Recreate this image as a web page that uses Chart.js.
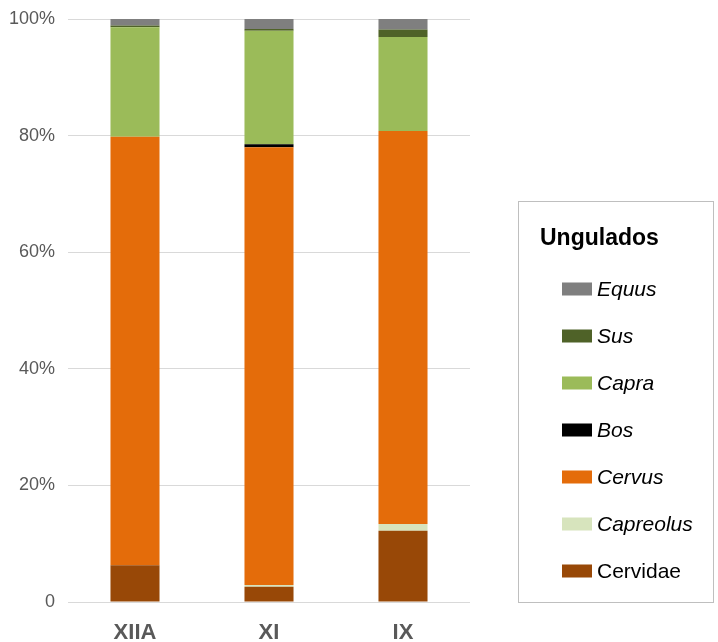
<!DOCTYPE html>
<html>
<head>
<meta charset="utf-8">
<script src="https://cdn.jsdelivr.net/npm/chart.js@4/dist/chart.umd.min.js"></script>
<style>
  html, body { margin: 0; padding: 0; background: #ffffff; }
  canvas { display: block; }
</style>
</head>
<body>
<canvas id="chart" width="718" height="642"></canvas>
<script>
// Levels (x axis categories)
const levels = ['XIIA', 'XI', 'IX'];

// Percentage of ungulate remains per taxon and level
const cervidae  = [6.3, 2.6, 12.2];
const capreolus = [0.0, 0.3, 1.2];
const cervus    = [73.5, 75.1, 67.4];
const bos       = [0.0, 0.5, 0.0];
const capra     = [18.8, 19.5, 16.1];
const sus       = [0.3, 0.3, 1.3];
const equus     = [1.1, 1.7, 1.8];

// Y axis tick values
const yTicks = [0, 20, 40, 60, 80, 100];

const legendTitle = 'Ungulados';

// Stacked from the bottom up
const series = [
  { label: 'Cervidae',  data: cervidae,  color: '#984807', italic: false },
  { label: 'Capreolus', data: capreolus, color: '#d7e4bd', italic: true },
  { label: 'Cervus',    data: cervus,    color: '#e46c0a', italic: true },
  { label: 'Bos',       data: bos,       color: '#000000', italic: true },
  { label: 'Capra',     data: capra,     color: '#9bbb59', italic: true },
  { label: 'Sus',       data: sus,       color: '#4f6228', italic: true },
  { label: 'Equus',     data: equus,     color: '#7f7f7f', italic: true }
];

const FONT = '"Liberation Sans", Arial, sans-serif';

// Boxed legend on the right, listed top-down in stacking order
const boxedLegend = {
  id: 'boxedLegend',
  afterDraw(chart) {
    const ctx = chart.ctx;
    const box = { left: 518.5, top: 201.5, right: 713.5, bottom: 602.5 };
    ctx.save();
    ctx.strokeStyle = '#bfbfbf';
    ctx.lineWidth = 1;
    ctx.strokeRect(box.left, box.top, box.right - box.left, box.bottom - box.top);

    ctx.fillStyle = '#000000';
    ctx.textBaseline = 'alphabetic';
    ctx.textAlign = 'left';
    ctx.font = 'bold 23px ' + FONT;
    ctx.fillText(legendTitle, 540, 245);

    const items = chart.data.datasets.slice().reverse();
    const firstY = 289;
    const step = 47;
    items.forEach((ds, i) => {
      const cy = firstY + i * step;
      ctx.fillStyle = ds.backgroundColor;
      ctx.fillRect(562, cy - 6.5, 30, 13);
      ctx.fillStyle = '#000000';
      ctx.textBaseline = 'middle';
      ctx.font = (ds.italic ? 'italic ' : '') + '21px ' + FONT;
      ctx.fillText(ds.label, 597, cy + 1);
    });
    ctx.restore();
  }
};

new Chart(document.getElementById('chart'), {
  type: 'bar',
  data: {
    labels: levels,
    datasets: series.map(s => ({
      label: s.label,
      data: s.data,
      backgroundColor: s.color,
      borderWidth: 0,
      italic: s.italic,
      categoryPercentage: 1.0,
      barPercentage: 0.366
    }))
  },
  options: {
    responsive: false,
    animation: false,
    devicePixelRatio: 1,
    layout: { padding: { left: 10, right: 248, top: 19, bottom: 0 } },
    plugins: {
      legend: { display: false },
      tooltip: { enabled: false }
    },
    scales: {
      x: {
        stacked: true,
        afterFit(scale) {
          scale.height = 40;
          scale.paddingLeft = 0;
          scale.paddingRight = 0;
        },
        grid: { display: false, drawTicks: false },
        border: { display: false },
        ticks: {
          color: '#595959',
          padding: 18,
          font: { family: FONT, size: 22, weight: 'bold' }
        }
      },
      y: {
        stacked: true,
        min: 0,
        max: 100,
        afterBuildTicks(scale) {
          scale.ticks = yTicks.map(v => ({ value: v }));
        },
        afterFit(scale) {
          scale.width = 58;
          scale.paddingTop = 0;
          scale.paddingBottom = 0;
        },
        grid: { color: '#d9d9d9', lineWidth: 1, drawTicks: false },
        border: { display: false },
        ticks: {
          color: '#595959',
          padding: 13,
          font: { family: FONT, size: 18 },
          callback: v => v === 0 ? '0' : v + '%'
        }
      }
    }
  },
  plugins: [boxedLegend]
});
</script>
</body>
</html>
